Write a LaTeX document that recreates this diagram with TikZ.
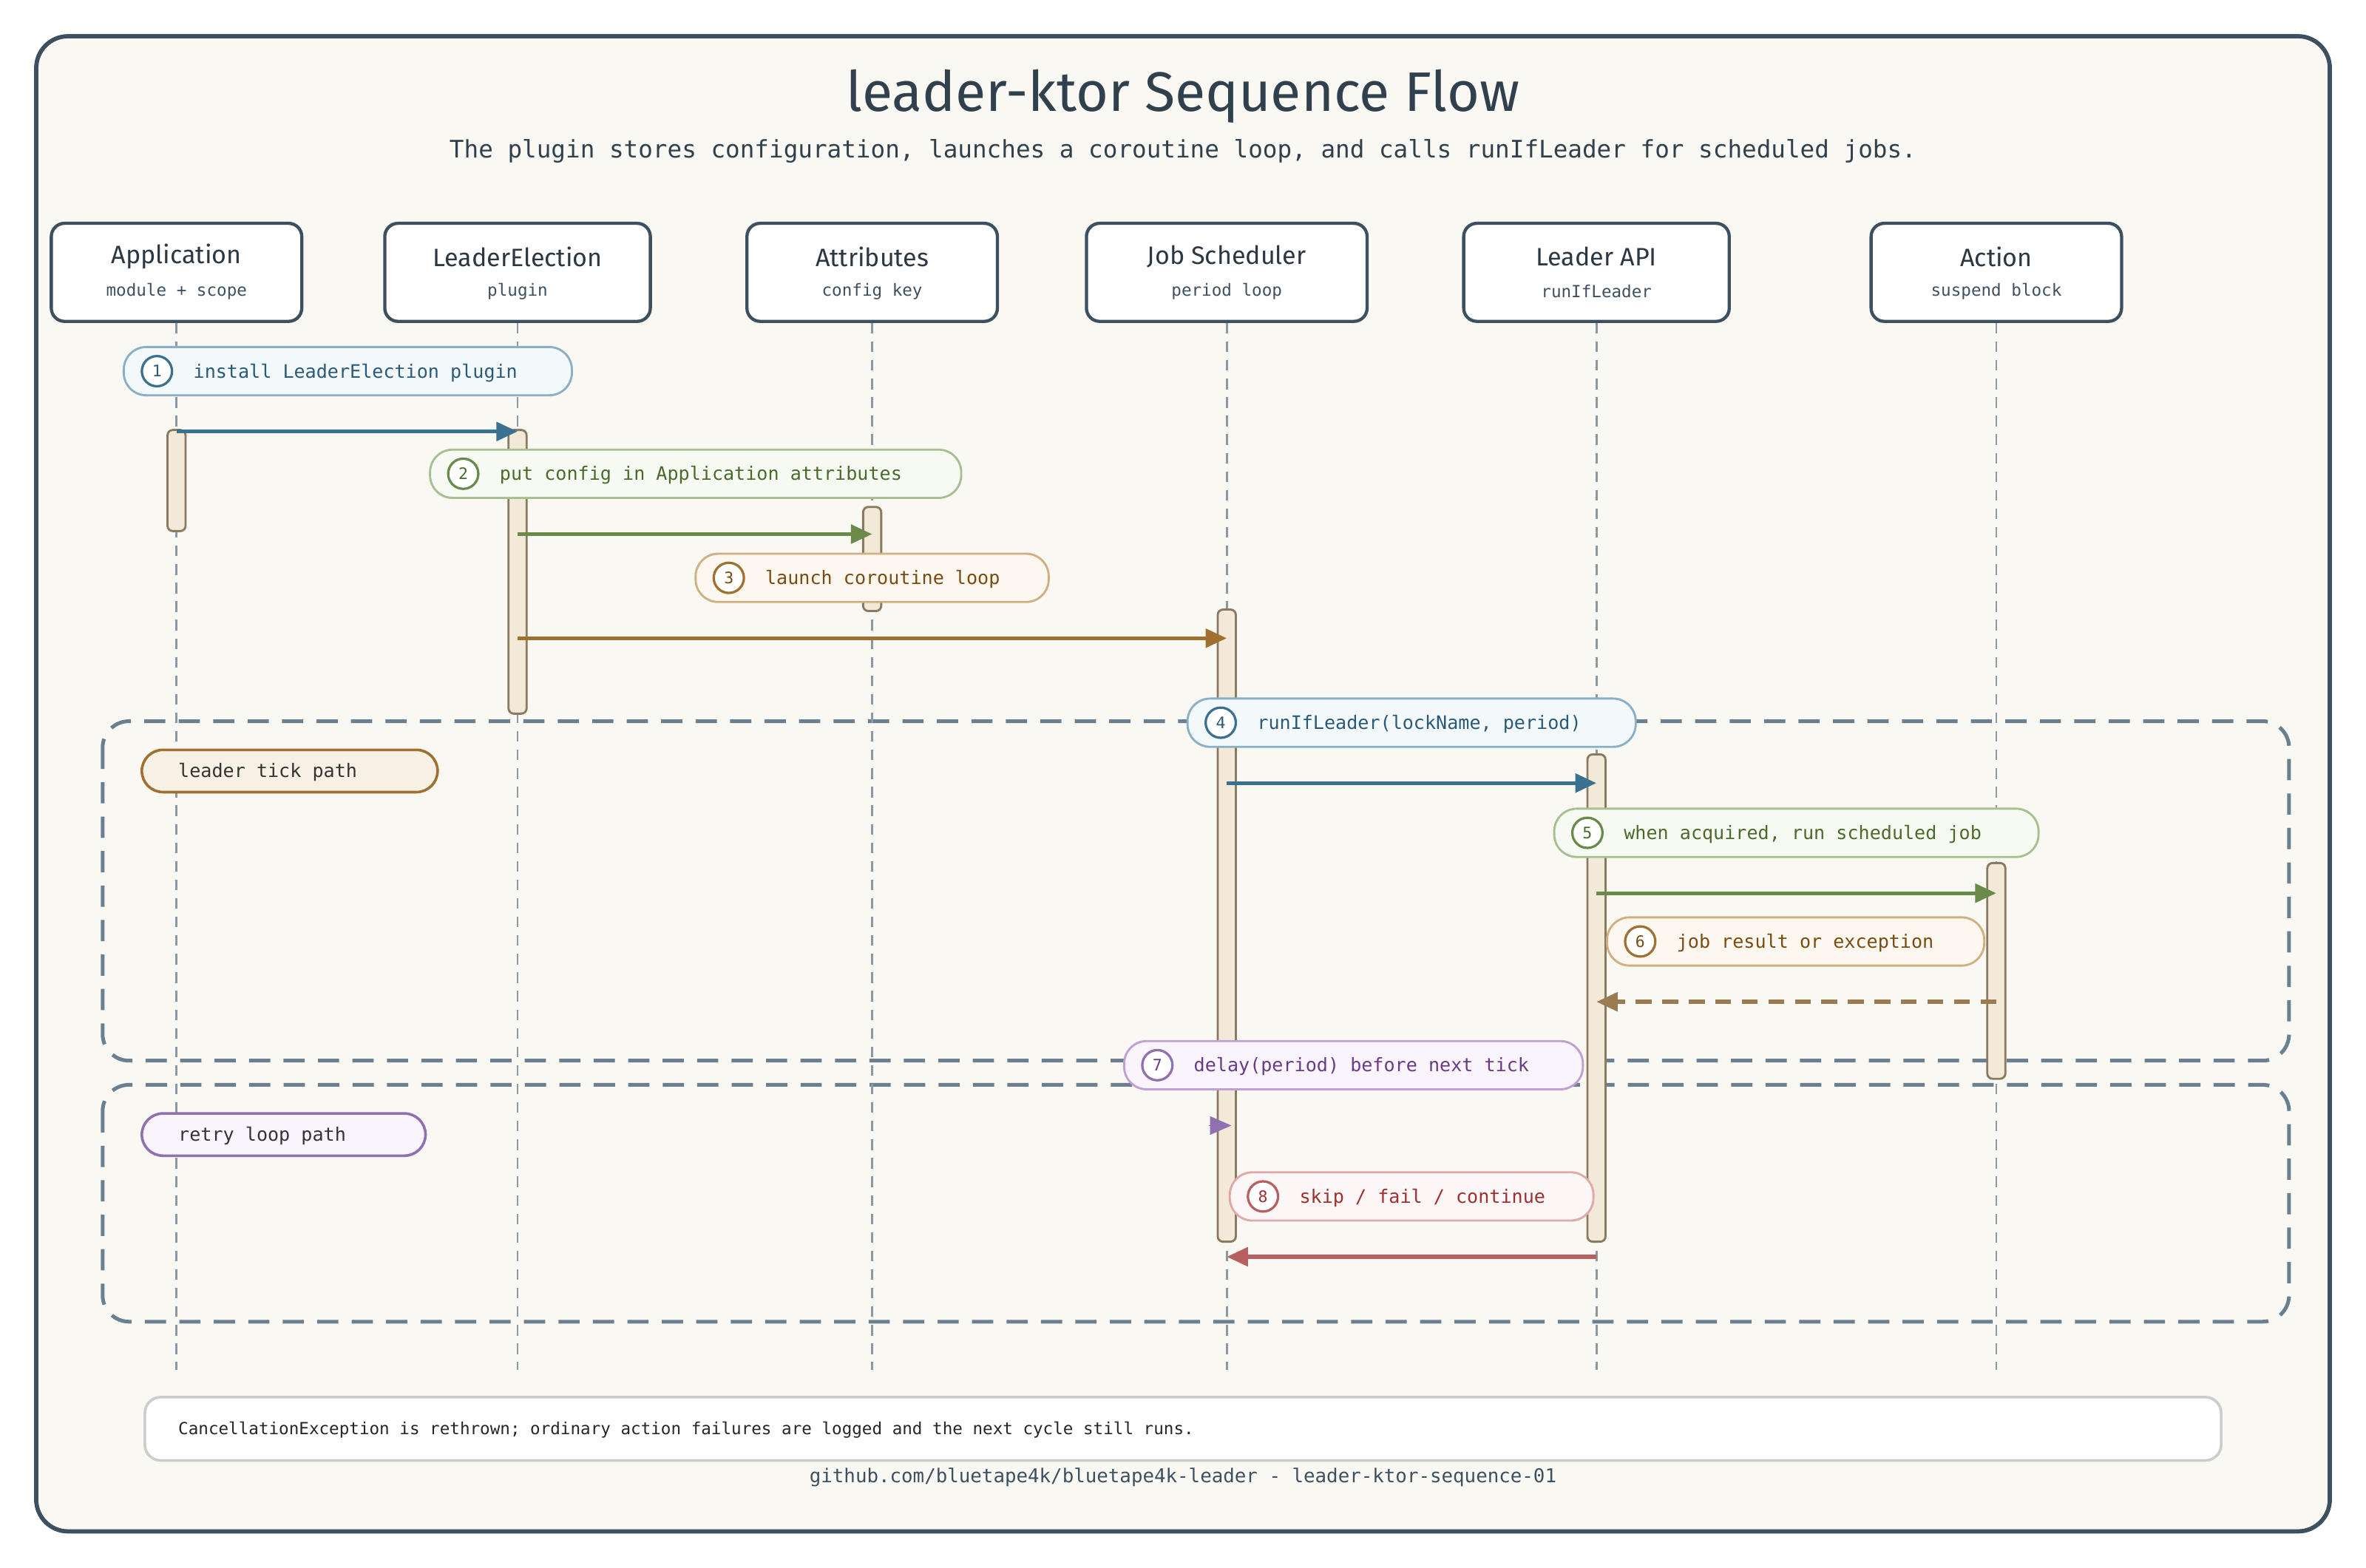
\documentclass[tikz,border=0pt]{standalone}
\usepackage{fontspec}
\setmainfont{Fira Sans}
\newfontfamily\mono{DejaVu Sans Mono}
\usetikzlibrary{arrows.meta}
\definecolor{frame}{HTML}{3D5060}
\definecolor{bg}{HTML}{F9F8F3}
\definecolor{life}{HTML}{8A9AA4}
\definecolor{actf}{HTML}{F3E9D9}
\definecolor{acts}{HTML}{8A7A60}
\definecolor{grp}{HTML}{6A8090}
\definecolor{bluef}{HTML}{F3F8FB}\definecolor{blues}{HTML}{8AB0C8}\definecolor{bluet}{HTML}{2A5A7A}\definecolor{bluea}{HTML}{3A7090}
\definecolor{greenf}{HTML}{F7FAF3}\definecolor{greens}{HTML}{A8C090}\definecolor{greent}{HTML}{4A6A2A}\definecolor{greena}{HTML}{6A8A4A}
\definecolor{oranf}{HTML}{FCF8F0}\definecolor{orans}{HTML}{D0B080}\definecolor{orant}{HTML}{7A4A10}\definecolor{orana}{HTML}{A07030}
\definecolor{purpf}{HTML}{FAF5FC}\definecolor{purps}{HTML}{C0A0D0}\definecolor{purpt}{HTML}{6A3A8A}\definecolor{purpa}{HTML}{9070B0}
\definecolor{redf}{HTML}{FDF6F6}\definecolor{reds}{HTML}{E0A8A8}\definecolor{redt}{HTML}{A03030}\definecolor{reda}{HTML}{B86060}
\tikzset{
  part/.style={draw=frame,line width=1.2pt,fill=white,rounded corners=5pt,minimum width=#1*0.02cm,minimum height=65*0.02cm},
  life/.style={draw=life,line width=0.8pt,dash pattern=on 4pt off 3pt},
  act/.style={draw=acts,fill=actf,line width=0.8pt,rounded corners=2pt},
  grp/.style={draw=grp,line width=1.4pt,dash pattern=on 8pt off 5pt,rounded corners=10pt},
  msg/.style={line width=1.5pt,-{Triangle[length=8pt,width=7pt]}},
  lbl/.style={font=\mono\fontsize{7}{8}\selectfont,anchor=west},
  num/.style={circle,line width=0.9pt,fill=white,inner sep=0pt,minimum size=20*0.02cm,font=\mono\fontsize{6}{7}\selectfont},
}
\newcommand\msgpill[7]{%
  \node[draw=#5s,fill=#5f,line width=0.8pt,rounded corners=0.3cm,minimum height=32*0.02cm,minimum width={(#4-#2)*0.02cm},inner sep=0pt] (#1) at ({(#2+#4)/2},#3) {};
  \node[num,draw=#5a,text=#5t] (#1n) at (#2+22,#3) {#6};
  \node[lbl,text=#5t] (#1t) at (#2+40,#3+1) {#7};}
\begin{document}
\begin{tikzpicture}[x=0.02cm,y=-0.02cm]
\useasboundingbox (0,0) rectangle (1568,1039);
\draw[frame,line width=1.6pt,fill=bg,rounded corners=12pt] (24,24) rectangle (1544,1015);
\node[font=\fontsize{21}{24}\selectfont,text=frame!80!black] (title) at (784,64) {leader-ktor Sequence Flow};
\node[font=\mono\fontsize{9.1}{11}\selectfont,text=frame!80!black] (sub) at (784,100) {The plugin stores configuration, launches a coroutine loop, and calls runIfLeader for scheduled jobs.};
\draw[grp] (68,478) rectangle (1517,703);
\draw[grp] (68,719) rectangle (1517,876);
\foreach \n/\x/\w/\a/\b in {app/117/166/Application/module + scope, le/343/176/LeaderElection/plugin, at/578/166/Attributes/config key, js/813/186/Job Scheduler/period loop, api/1058/176/Leader API/runIfLeader, act/1323/166/Action/suspend block}{
  \node[part=\w] (\n) at (\x,180.5) {};
  \node[font=\fontsize{9.5}{11}\selectfont,text=frame!70!black] (\n name) at (\x,170) {\a};
  \node[font=\mono\fontsize{6.3}{7}\selectfont,text=frame] (\n sub) at (\x,193) {\b};
  \coordinate (\n end) at (\x,908);
  \draw[life] (\n.south) -- (\n end);
}
\foreach \x/\a/\b in {117/285/352, 343/285/473, 578/336/405, 813/404/823, 1058/500/823, 1323/572/715}
  \draw[act] (\x-6,\a) rectangle (\x+6,\b);
\node[draw=orana,fill=actf!70!white,line width=1pt,rounded corners=0.28cm,minimum width=196*0.02cm,minimum height=28*0.02cm,inner sep=0pt] (g1) at (192,511) {};
\node[lbl,text=black!80] (g1t) at (112,512) {leader tick path};
\node[draw=purpa,fill=purpf,line width=1pt,rounded corners=0.28cm,minimum width=188*0.02cm,minimum height=28*0.02cm,inner sep=0pt] (g2) at (188,752) {};
\node[lbl,text=black!80] (g2t) at (112,753) {retry loop path};
\coordinate (m1a) at (117,286); \coordinate (m1b) at (343,286);
\coordinate (m2a) at (343,354); \coordinate (m2b) at (578,354);
\coordinate (m3a) at (343,423); \coordinate (m3b) at (813,423);
\coordinate (m4a) at (813,519); \coordinate (m4b) at (1058,519);
\coordinate (m5a) at (1058,592); \coordinate (m5b) at (1323,592);
\coordinate (m6a) at (1323,664); \coordinate (m6b) at (1058,664);
\coordinate (m7a) at (801,746); \coordinate (m7b) at (816,746);
\coordinate (m8a) at (1058,833); \coordinate (m8b) at (813,833);
\draw[msg,bluea] (m1a) -- (m1b);
\draw[msg,greena] (m2a) -- (m2b);
\draw[msg,orana] (m3a) -- (m3b);
\draw[msg,bluea] (m4a) -- (m4b);
\draw[msg,greena] (m5a) -- (m5b);
\draw[msg,orana!80!black!80!white,dash pattern=on 6pt off 4pt] (m6a) -- (m6b);
\draw[msg,purpa,line width=0.1pt,-{Triangle[length=8pt,width=7pt]}] (m7a) -- (m7b);
\draw[msg,reda] (m8a) -- (m8b);
\msgpill{p1}{82}{246}{379}{blue}{1}{install LeaderElection plugin}
\msgpill{p2}{285}{314}{637}{green}{2}{put config in Application attributes}
\msgpill{p3}{461}{383}{695}{oran}{3}{launch coroutine loop}
\msgpill{p4}{787}{479}{1084}{blue}{4}{runIfLeader(lockName, period)}
\msgpill{p5}{1030}{552}{1351}{green}{5}{when acquired, run scheduled job}
\msgpill{p6}{1065}{624}{1315}{oran}{6}{job result or exception}
\msgpill{p7}{745}{706}{1049}{purp}{7}{delay(period) before next tick}
\msgpill{p8}{815}{793}{1056}{red}{8}{skip / fail / continue}
\draw[draw=black!20,fill=white,line width=1pt,rounded corners=6pt] (96,926) rectangle (1472,968);
\node[lbl,font=\mono\fontsize{6.3}{7}\selectfont,text=black!85] (note) at (112,948) {CancellationException is rethrown; ordinary action failures are logged and the next cycle still runs.};
\node[font=\mono\fontsize{7.2}{8}\selectfont,text=frame] (foot) at (784,979) {github.com/bluetape4k/bluetape4k-leader - leader-ktor-sequence-01};
\end{tikzpicture}
\end{document}
